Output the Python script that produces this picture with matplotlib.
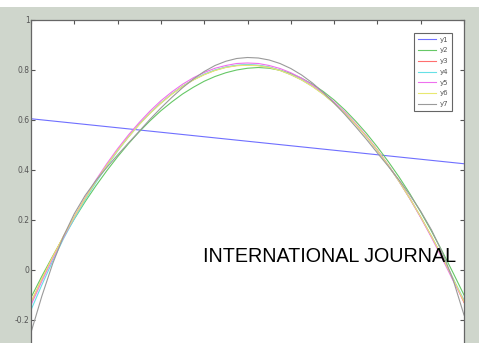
import matplotlib.pyplot as plt
from matplotlib.patches import Rectangle

x = [i / 40 for i in range(41)]
x1 = [0, 1]
y1 = [0.605, 0.425]
y2 = [-0.11, -0.025, 0.055, 0.132, 0.204, 0.273, 0.337, 0.397, 0.453, 0.505,
      0.553, 0.597, 0.637, 0.672, 0.704, 0.731, 0.755, 0.774, 0.789, 0.800,
      0.807, 0.810, 0.807, 0.799, 0.786, 0.767, 0.743, 0.714, 0.680, 0.640,
      0.595, 0.546, 0.492, 0.434, 0.372, 0.305, 0.232, 0.155, 0.074, -0.012, -0.10]
y3 = [-0.13, -0.037, 0.051, 0.134, 0.212, 0.286, 0.355, 0.419, 0.478, 0.533,
      0.583, 0.628, 0.668, 0.704, 0.735, 0.761, 0.782, 0.799, 0.811, 0.818,
      0.820, 0.818, 0.811, 0.799, 0.782, 0.761, 0.735, 0.704, 0.668, 0.628,
      0.583, 0.533, 0.478, 0.419, 0.355, 0.286, 0.212, 0.134, 0.051, -0.037, -0.13]
y4 = [-0.16, -0.06, 0.035, 0.125, 0.205, 0.280, 0.350, 0.415, 0.476, 0.532,
      0.583, 0.628, 0.668, 0.704, 0.735, 0.761, 0.783, 0.800, 0.812, 0.819,
      0.822, 0.819, 0.812, 0.799, 0.782, 0.761, 0.735, 0.704, 0.668, 0.628,
      0.583, 0.533, 0.478, 0.419, 0.355, 0.286, 0.212, 0.134, 0.052, -0.034, -0.12]
y5 = [-0.14, -0.045, 0.045, 0.130, 0.212, 0.288, 0.360, 0.425, 0.485, 0.540,
      0.590, 0.636, 0.677, 0.712, 0.743, 0.769, 0.790, 0.807, 0.818, 0.826,
      0.828, 0.826, 0.818, 0.806, 0.789, 0.767, 0.740, 0.708, 0.672, 0.631,
      0.585, 0.535, 0.480, 0.420, 0.355, 0.285, 0.210, 0.130, 0.045, -0.043, -0.125]
y6 = [-0.13, -0.036, 0.052, 0.135, 0.213, 0.286, 0.355, 0.419, 0.478, 0.532,
      0.582, 0.627, 0.667, 0.703, 0.734, 0.760, 0.781, 0.798, 0.810, 0.817,
      0.819, 0.817, 0.810, 0.798, 0.781, 0.760, 0.734, 0.703, 0.667, 0.627,
      0.582, 0.532, 0.478, 0.419, 0.355, 0.286, 0.213, 0.135, 0.052, -0.036, -0.125]
y7 = [-0.25, -0.105, 0.025, 0.135, 0.225, 0.298, 0.358, 0.410, 0.460, 0.508,
      0.555, 0.603, 0.648, 0.690, 0.729, 0.764, 0.794, 0.818, 0.835, 0.846,
      0.850, 0.848, 0.840, 0.826, 0.806, 0.780, 0.748, 0.710, 0.668, 0.622,
      0.573, 0.522, 0.468, 0.415, 0.360, 0.300, 0.235, 0.160, 0.070, -0.04, -0.18]
yticks = [-0.2, 0, 0.2, 0.4, 0.6, 0.8, 1]
ytick_labels = ['-0.2', '0', '0.2', '0.4', '0.6', '0.8', '1']

fig = plt.figure(figsize=(4.79, 3.43), dpi=100)
fig.patch.set_facecolor('#cfd6cc')
# white strip at the very top
fig.patches.append(Rectangle((0, 1 - 7 / 343), 1, 7 / 343, transform=fig.transFigure,
                             facecolor='white', edgecolor='none', zorder=0))

ax = fig.add_axes([31 / 479, 0.9417 - 1.0204, 433 / 479, 1.0204])
ax.set_facecolor('white')

ax.plot(x1, y1, color='#6f6fff', lw=0.8, label='y1')
ax.plot(x, y2, color='#66c866', lw=0.8, label='y2')
ax.plot(x, y3, color='#ff6f6f', lw=0.8, label='y3')
ax.plot(x, y4, color='#66e0e6', lw=0.8, label='y4')
ax.plot(x, y5, color='#ee70ee', lw=0.8, label='y5')
ax.plot(x, y6, color='#e8e870', lw=0.8, label='y6')
ax.plot(x, y7, color='#9a9a9a', lw=0.8, label='y7')

ax.set_xlim(0, 1)
ax.set_ylim(-0.4, 1)
ax.set_xticks([i / 10 for i in range(11)])
ax.set_xticklabels([])
ax.set_yticks(yticks)
ax.set_yticklabels(ytick_labels)
ax.tick_params(direction='in', length=3, width=0.8, color='#555555',
               labelsize=5.5, labelcolor='#555555', top=True, right=True, pad=1)
for s in ax.spines.values():
    s.set_color('#666666')
    s.set_linewidth(0.9)

leg = ax.legend(loc='upper right', bbox_to_anchor=(0.972, 0.963), fontsize=5,
                handlelength=2.6, handletextpad=0.5, labelspacing=0.68,
                borderpad=0.55, borderaxespad=0, fancybox=False, framealpha=1,
                edgecolor='#666666')
leg.get_frame().set_linewidth(0.8)
for t in leg.get_texts():
    t.set_color('#555555')

fig.text(203 / 479, 1 - 257 / 343, 'INTERNATIONAL JOURNAL', fontsize=14.2,
         family='Liberation Sans', va='center', ha='left', color='black')

fig.savefig('out.png', dpi=100, facecolor=fig.get_facecolor())
